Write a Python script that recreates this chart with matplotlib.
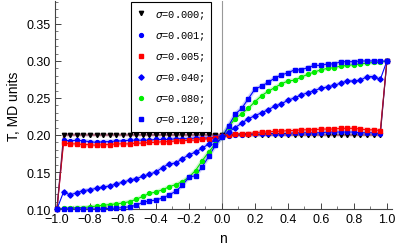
"""Temperature profiles T(n) for several noise levels sigma, Mathematica-like look."""

import matplotlib

matplotlib.use("Agg")
import matplotlib.pyplot as plt
from matplotlib.ticker import MultipleLocator

n_pos = [-1.00, -0.96, -0.92, -0.88, -0.84, -0.80, -0.76, -0.72, -0.68, -0.64, -0.60,
         -0.56, -0.52, -0.48, -0.44, -0.40, -0.36, -0.32, -0.28, -0.24, -0.20,
         -0.16, -0.12, -0.08, -0.04, 0.00, 0.04, 0.08, 0.12, 0.16, 0.20,
         0.24, 0.28, 0.32, 0.36, 0.40, 0.44, 0.48, 0.52, 0.56, 0.60,
         0.64, 0.68, 0.72, 0.76, 0.80, 0.84, 0.88, 0.92, 0.96, 1.00]

T_s000 = [0.100,
          0.200, 0.200, 0.200, 0.200, 0.200, 0.200, 0.200, 0.200, 0.200, 0.200, 0.200, 0.200,
          0.200, 0.200, 0.200, 0.200, 0.200, 0.200, 0.200, 0.200, 0.200, 0.200, 0.200, 0.200,
          0.200,
          0.200, 0.200, 0.200, 0.200, 0.200, 0.200, 0.200, 0.200, 0.200, 0.200, 0.200, 0.200,
          0.200, 0.200, 0.200, 0.200, 0.200, 0.200, 0.200, 0.200, 0.200, 0.200, 0.200, 0.200,
          0.300]
T_s001 = [0.100,
          0.193, 0.192, 0.193, 0.192, 0.191, 0.190, 0.191, 0.191, 0.192, 0.192, 0.193, 0.193,
          0.193, 0.193, 0.194, 0.194, 0.194, 0.195, 0.195, 0.195, 0.196, 0.196, 0.196, 0.197,
          0.198,
          0.199, 0.200, 0.200, 0.201, 0.201, 0.201, 0.202, 0.202, 0.202, 0.202, 0.203, 0.203,
          0.203, 0.203, 0.203, 0.204, 0.204, 0.204, 0.204, 0.204, 0.203, 0.203, 0.203, 0.202,
          0.300]
T_s005 = [0.100,
          0.189, 0.188, 0.188, 0.187, 0.187, 0.186, 0.187, 0.187, 0.188, 0.188, 0.188, 0.189,
          0.189, 0.190, 0.190, 0.191, 0.191, 0.192, 0.192, 0.193, 0.193, 0.194, 0.195, 0.196,
          0.198,
          0.200, 0.201, 0.202, 0.202, 0.203, 0.204, 0.204, 0.205, 0.205, 0.206, 0.206, 0.207,
          0.207, 0.207, 0.208, 0.208, 0.208, 0.209, 0.209, 0.209, 0.208, 0.207, 0.207, 0.206,
          0.300]
T_s040 = [0.100,
          0.123, 0.119, 0.122, 0.125, 0.126, 0.128, 0.130, 0.131, 0.134, 0.136, 0.139, 0.141,
          0.144, 0.147, 0.150, 0.156, 0.161, 0.162, 0.168, 0.173, 0.177, 0.182, 0.188, 0.193,
          0.198,
          0.204, 0.210, 0.216, 0.222, 0.226, 0.230, 0.234, 0.239, 0.242, 0.247, 0.250, 0.254,
          0.257, 0.260, 0.263, 0.265, 0.267, 0.270, 0.273, 0.273, 0.274, 0.279, 0.279, 0.275,
          0.300]
T_s080 = [0.100,
          0.101, 0.101, 0.102, 0.102, 0.103, 0.104, 0.105, 0.106, 0.107, 0.108, 0.110, 0.113,
          0.117, 0.121, 0.123, 0.126, 0.130, 0.133, 0.137, 0.143, 0.152, 0.165, 0.177, 0.188,
          0.197,
          0.211, 0.222, 0.229, 0.236, 0.245, 0.253, 0.259, 0.264, 0.269, 0.273, 0.274, 0.278,
          0.282, 0.285, 0.288, 0.290, 0.291, 0.293, 0.294, 0.295, 0.296, 0.297, 0.298, 0.298,
          0.300]
T_s120 = [0.100,
          0.100, 0.100, 0.100, 0.100, 0.100, 0.100, 0.100, 0.101, 0.101, 0.102, 0.103, 0.105,
          0.109, 0.111, 0.112, 0.115, 0.119, 0.124, 0.132, 0.143, 0.145, 0.157, 0.171, 0.186,
          0.197,
          0.212, 0.228, 0.236, 0.249, 0.262, 0.266, 0.271, 0.277, 0.281, 0.284, 0.288, 0.288,
          0.291, 0.294, 0.294, 0.296, 0.296, 0.299, 0.299, 0.299, 0.300, 0.300, 0.300, 0.300,
          0.300]

labels = ["0.000", "0.001", "0.005", "0.040", "0.080", "0.120"]

# (values, marker, marker colour, line colour, marker size)
series = [
    (T_s000, "v", "black", "#7d1a3c", 3.1),
    (T_s001, "o", "#0000ff", "#0000ff", 2.8),
    (T_s005, "s", "#ff0000", "#ff0000", 2.7),
    (T_s040, "D", "#0000ff", "#0000ff", 2.7),
    (T_s080, "o", "#00ee00", "#00dd00", 2.8),
    (T_s120, "s", "#0000ff", "#0000ff", 2.6),
]

fig = plt.figure(figsize=(3.97, 2.51), dpi=100)
ax = fig.add_axes([0.1385, 0.1633, 0.8485, 0.8287])

ax.axvline(0.0, color="#999999", lw=0.8, zorder=0)

handles = []
for i, ((vals, mk, mc, lc, ms), lab) in enumerate(zip(series, labels)):
    # faint wide band under the interior of each profile
    ax.plot(n_pos[1:-1], vals[1:-1], color=lc, lw=3.0, alpha=0.18, zorder=1,
            solid_capstyle="round")
    # the sigma=0 line sits on top so the end jumps look dark red
    ax.plot(n_pos, vals, color=lc, lw=0.8, zorder=2.5 if i == 0 else 2)
    h, = ax.plot(n_pos, vals, ls="none", marker=mk, ms=ms, color=mc, mec=mc,
                 zorder=3, clip_on=False, label=r"$\sigma$=" + lab + ";")
    handles.append(h)

ax.set_xlim(-1.012, 1.03)
ax.set_ylim(0.1, 0.381)

ax.xaxis.set_major_locator(MultipleLocator(0.2))
ax.xaxis.set_minor_locator(MultipleLocator(0.1))
ax.yaxis.set_major_locator(MultipleLocator(0.05))
ax.yaxis.set_minor_locator(MultipleLocator(0.01))
ax.xaxis.set_major_formatter(matplotlib.ticker.FuncFormatter(
    lambda v, p: ("\u2212" if v < -1e-9 else "") + f"{abs(v):.1f}"))
ax.yaxis.set_major_formatter(matplotlib.ticker.FormatStrFormatter("%.2f"))

for side in ("top", "right"):
    ax.spines[side].set_visible(False)
for side in ("left", "bottom"):
    ax.spines[side].set_color("#444444")
    ax.spines[side].set_linewidth(0.8)

ax.tick_params(which="both", direction="in", color="#444444", labelsize=9,
               labelfontfamily="Liberation Sans")
ax.tick_params(which="major", length=4, width=0.7, pad=3)
ax.tick_params(which="minor", length=2, width=0.5)

ax.set_xlabel("n", fontsize=10, family="Liberation Sans", labelpad=4)
ax.set_ylabel("T, MD units", fontsize=10, family="Liberation Sans", labelpad=4)

leg = ax.legend(handles=handles, loc="upper left", bbox_to_anchor=(0.2255, 0.995),
                prop={"family": "Liberation Mono", "size": 7.5},
                frameon=True, fancybox=False, framealpha=1, edgecolor="black",
                handlelength=0.8, handletextpad=0.9, labelspacing=0.8,
                borderpad=0.6, borderaxespad=0, markerscale=1.0)
leg.get_frame().set_linewidth(0.8)

fig.savefig("out.png", dpi=100)
